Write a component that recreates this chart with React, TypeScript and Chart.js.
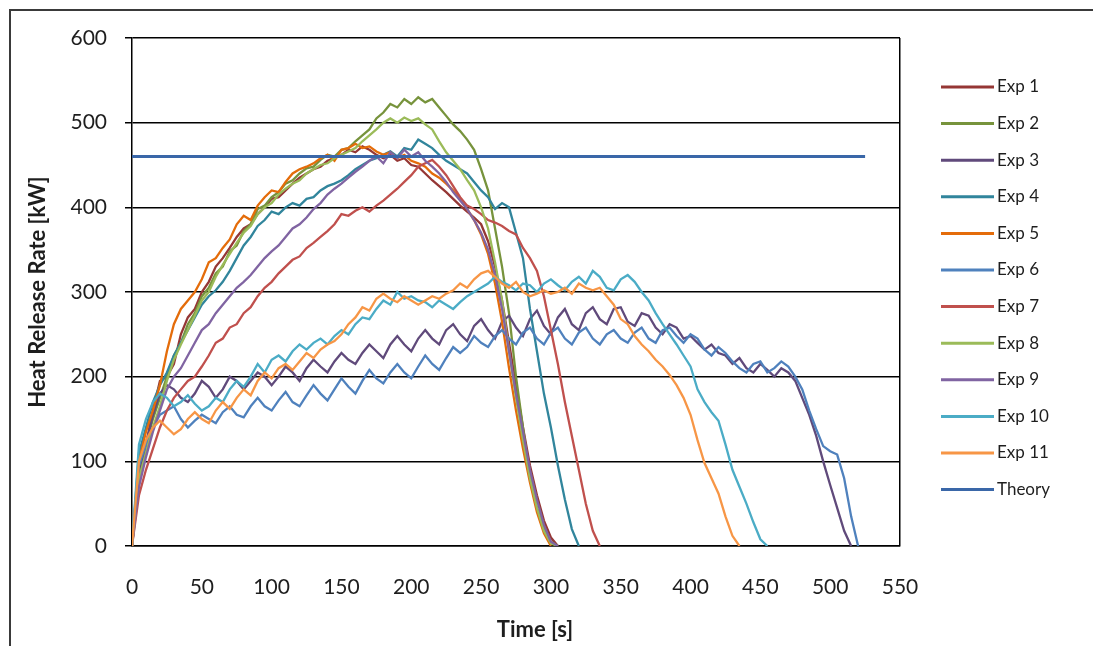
import React, { useEffect, useRef } from "react";
import { Chart, registerables } from "chart.js";

Chart.register(...registerables);

// ---------- data ----------
const STEP = 5; // seconds between samples

const SERIES_NAMES = ["Exp 1", "Exp 2", "Exp 3", "Exp 4", "Exp 5", "Exp 6", "Exp 7", "Exp 8", "Exp 9", "Exp 10", "Exp 11", "Theory"];
const SERIES_COLORS = ["#953735", "#77933C", "#604A7B", "#31859C", "#E46C0A", "#4F81BD", "#C0504D", "#9BBB59", "#8064A2", "#4BACC6", "#F79646", "#3A67A8"];

const X_MIN = 0;
const X_MAX = 550;
const X_STEP = 50;
const Y_MIN = 0;
const Y_MAX = 600;
const Y_STEP = 100;
const X_TITLE = "Time [s]";
const Y_TITLE = "Heat Release Rate [kW]";

const exp1 = [0, 85, 120, 160, 195, 200, 215, 250, 270, 280, 300, 312, 330, 340, 352, 365, 375, 380, 392, 400, 410, 412, 420, 428, 435, 440, 445, 448, 455, 458, 462, 468, 465, 472, 468, 462, 458, 462, 455, 458, 450, 448, 440, 432, 425, 418, 410, 402, 395, 388, 380, 360, 330, 290, 240, 190, 140, 95, 60, 30, 10, 0];
const exp2 = [0, 95, 120, 150, 175, 200, 225, 240, 262, 275, 295, 305, 322, 330, 348, 355, 372, 380, 398, 402, 412, 418, 428, 432, 440, 446, 448, 456, 462, 460, 468, 470, 478, 485, 492, 505, 512, 522, 518, 528, 522, 530, 524, 528, 518, 508, 498, 490, 480, 468, 445, 420, 375, 330, 275, 200, 140, 80, 45, 20, 5, 0];
const exp3 = [0, 80, 120, 155, 180, 190, 185, 175, 170, 180, 195, 188, 175, 185, 200, 195, 185, 195, 205, 200, 190, 200, 212, 205, 195, 210, 220, 212, 205, 218, 228, 220, 215, 228, 238, 230, 222, 238, 248, 238, 230, 245, 255, 245, 238, 255, 262, 250, 242, 260, 268, 255, 245, 265, 272, 258, 248, 268, 278, 260, 250, 270, 280, 262, 255, 275, 282, 268, 262, 280, 282, 265, 260, 275, 272, 258, 250, 262, 258, 245, 248, 240, 232, 238, 228, 225, 215, 222, 210, 205, 215, 208, 200, 210, 205, 195, 175, 155, 130, 100, 72, 45, 18, 0];
const exp4 = [0, 110, 140, 170, 190, 205, 225, 240, 255, 270, 285, 295, 302, 312, 325, 340, 355, 365, 378, 385, 395, 392, 400, 405, 402, 410, 412, 420, 425, 428, 432, 438, 445, 450, 455, 458, 462, 466, 460, 470, 468, 480, 475, 470, 462, 455, 450, 445, 440, 430, 420, 412, 398, 405, 400, 370, 340, 280, 230, 180, 140, 95, 55, 20, 0];
const exp5 = [0, 100, 135, 160, 190, 230, 262, 280, 290, 300, 315, 335, 340, 352, 362, 380, 390, 385, 402, 412, 420, 418, 430, 440, 445, 448, 452, 458, 462, 455, 468, 470, 475, 470, 472, 466, 462, 465, 458, 462, 455, 452, 448, 440, 435, 428, 420, 410, 398, 385, 368, 345, 310, 265, 210, 160, 115, 75, 40, 15, 0];
const exp6 = [0, 95, 120, 140, 155, 160, 165, 150, 140, 148, 155, 150, 145, 158, 165, 155, 152, 165, 175, 165, 160, 172, 182, 170, 165, 178, 190, 180, 172, 185, 198, 188, 180, 195, 208, 198, 192, 205, 215, 205, 198, 212, 225, 215, 208, 222, 235, 228, 235, 248, 240, 235, 248, 255, 245, 238, 252, 258, 245, 238, 252, 258, 245, 238, 252, 258, 245, 238, 250, 255, 245, 240, 252, 258, 245, 240, 255, 258, 248, 240, 250, 245, 232, 225, 235, 228, 218, 210, 205, 215, 218, 205, 210, 218, 212, 200, 185, 160, 138, 118, 112, 108, 80, 35, 0];
const exp7 = [0, 60, 90, 115, 140, 160, 175, 185, 195, 200, 212, 225, 240, 245, 258, 262, 275, 282, 295, 305, 312, 322, 330, 338, 342, 352, 358, 365, 372, 380, 392, 390, 396, 400, 395, 402, 408, 415, 422, 430, 438, 448, 452, 456, 448, 438, 425, 412, 402, 398, 392, 385, 382, 378, 372, 368, 352, 340, 325, 295, 255, 215, 170, 130, 90, 50, 18, 0];
const exp8 = [0, 80, 110, 140, 165, 195, 220, 238, 255, 272, 290, 300, 318, 332, 345, 358, 370, 378, 392, 400, 405, 415, 422, 428, 432, 440, 445, 450, 452, 458, 462, 466, 470, 478, 485, 492, 500, 505, 500, 506, 502, 505, 498, 492, 478, 465, 455, 445, 432, 420, 400, 375, 335, 290, 230, 175, 125, 80, 45, 18, 3, 0];
const exp9 = [0, 70, 105, 135, 160, 185, 200, 210, 225, 240, 255, 262, 275, 285, 295, 305, 312, 320, 330, 340, 348, 355, 365, 375, 380, 388, 398, 405, 415, 422, 428, 435, 442, 448, 455, 460, 452, 465, 458, 468, 460, 465, 455, 448, 440, 430, 418, 408, 398, 385, 370, 350, 320, 280, 230, 180, 135, 90, 55, 25, 5, 0];
const exp10 = [0, 120, 150, 170, 180, 175, 165, 170, 178, 168, 160, 165, 175, 170, 185, 195, 188, 200, 215, 205, 220, 225, 218, 230, 238, 232, 240, 245, 238, 248, 255, 250, 262, 270, 268, 280, 290, 285, 300, 292, 295, 290, 288, 282, 290, 285, 280, 288, 295, 300, 305, 310, 318, 312, 308, 302, 310, 308, 300, 310, 315, 308, 302, 312, 318, 310, 325, 318, 305, 302, 315, 320, 312, 300, 290, 275, 262, 250, 238, 225, 212, 185, 170, 158, 148, 120, 90, 70, 50, 28, 8, 0];
const exp11 = [0, 100, 125, 140, 148, 140, 132, 138, 150, 158, 150, 145, 160, 170, 162, 175, 185, 178, 195, 205, 198, 210, 215, 208, 218, 228, 222, 232, 238, 242, 250, 262, 270, 282, 278, 292, 298, 292, 288, 295, 290, 285, 290, 295, 292, 298, 302, 310, 305, 315, 322, 325, 318, 310, 305, 312, 300, 295, 298, 302, 298, 300, 305, 298, 310, 305, 302, 305, 295, 285, 268, 262, 248, 238, 230, 220, 212, 202, 190, 175, 155, 125, 98, 80, 62, 35, 12, 0];
const theoryTimes = [0, 525];
const theoryValues = [460, 460];

const EXP_VALUES = [exp1, exp2, exp3, exp4, exp5, exp6, exp7, exp8, exp9, exp10, exp11];

// ---------- styling ----------
const FONT = "Lato, 'Open Sans', sans-serif";
const TEXT = "#1e1e1e";

const sideLegend = {
  id: "sideLegend",
  afterDraw(chart: any) {
    const ctx = chart.ctx;
    ctx.save();
    chart.data.datasets.forEach((ds: any, i: number) => {
      const y = 87 + i * 36.6;
      ctx.strokeStyle = ds.borderColor;
      ctx.lineWidth = 3;
      ctx.beginPath();
      ctx.moveTo(941, y);
      ctx.lineTo(994, y);
      ctx.stroke();
      ctx.fillStyle = TEXT;
      ctx.font = `17px ${FONT}`;
      ctx.textBaseline = "middle";
      ctx.textAlign = "left";
      ctx.fillText(ds.label, 997, y);
    });
    // x-axis title (offset to the right as in the reference)
    ctx.font = `bold 22px ${FONT}`;
    ctx.fillStyle = TEXT;
    ctx.textAlign = "center";
    ctx.textBaseline = "middle";
    ctx.fillText(X_TITLE, 535, 630);
    ctx.restore();
  },
};

export default function App() {
  const canvasRef = useRef<HTMLCanvasElement | null>(null);

  useEffect(() => {
    if (!canvasRef.current) return;
    const datasets: any[] = EXP_VALUES.map((vals, k) => ({
      label: SERIES_NAMES[k],
      data: vals.map((v, i) => ({ x: i * STEP, y: v })),
      borderColor: SERIES_COLORS[k],
      backgroundColor: SERIES_COLORS[k],
      borderWidth: 2.3,
      order: 20 - k,
    }));
    datasets.push({
      label: SERIES_NAMES[11],
      data: theoryTimes.map((t, i) => ({ x: t, y: theoryValues[i] })),
      borderColor: SERIES_COLORS[11],
      backgroundColor: SERIES_COLORS[11],
      borderWidth: 3,
      order: 0,
    });

    const chart = new Chart(canvasRef.current, {
      type: "line",
      data: { datasets },
      plugins: [sideLegend],
      options: {
        animation: false,
        responsive: true,
        maintainAspectRatio: false,
        layout: { padding: { left: 0, top: 38, right: 193, bottom: 0 } },
        elements: { point: { radius: 0 }, line: { tension: 0 } },
        plugins: { legend: { display: false }, tooltip: { enabled: false } },
        scales: {
          x: {
            type: "linear",
            min: X_MIN,
            max: X_MAX,
            ticks: { stepSize: X_STEP, color: TEXT, font: { family: FONT, size: 21 }, padding: 29, maxRotation: 0, autoSkip: false },
            grid: {
              drawTicks: false,
              lineWidth: 1.5,
              color: (c: any) => (c.tick && c.tick.value === X_MAX ? "#000" : "rgba(0,0,0,0)"),
            },
            border: { display: true, color: "#000", width: 1.5 },
            title: { display: false },
            afterFit: (s: any) => { s.height = 100; },
          },
          y: {
            min: Y_MIN,
            max: Y_MAX,
            ticks: { stepSize: Y_STEP, color: TEXT, font: { family: FONT, size: 21 }, padding: 18 },
            grid: { color: "#000", lineWidth: 1.5, tickLength: 7 },
            border: { display: true, color: "#000", width: 1.5 },
            title: { display: true, text: Y_TITLE, color: TEXT, font: { family: FONT, size: 22, weight: "bold" }, padding: { top: 25, bottom: 0 } },
            afterFit: (s: any) => { s.width = 132; },
          },
        },
      } as any,
    });
    return () => chart.destroy();
  }, []);

  return (
    <div style={{ position: "fixed", left: 0, top: 0, width: 1093, height: 646, background: "#fff", overflow: "hidden" }}>
      <div style={{ position: "absolute", left: 9, top: 9, width: 1200, height: 800, border: "2px solid #3a3a3a", boxSizing: "border-box" }} />
      <div style={{ position: "absolute", left: 0, top: 0, width: 1093, height: 646 }}>
        <canvas ref={canvasRef} />
      </div>
    </div>
  );
}
